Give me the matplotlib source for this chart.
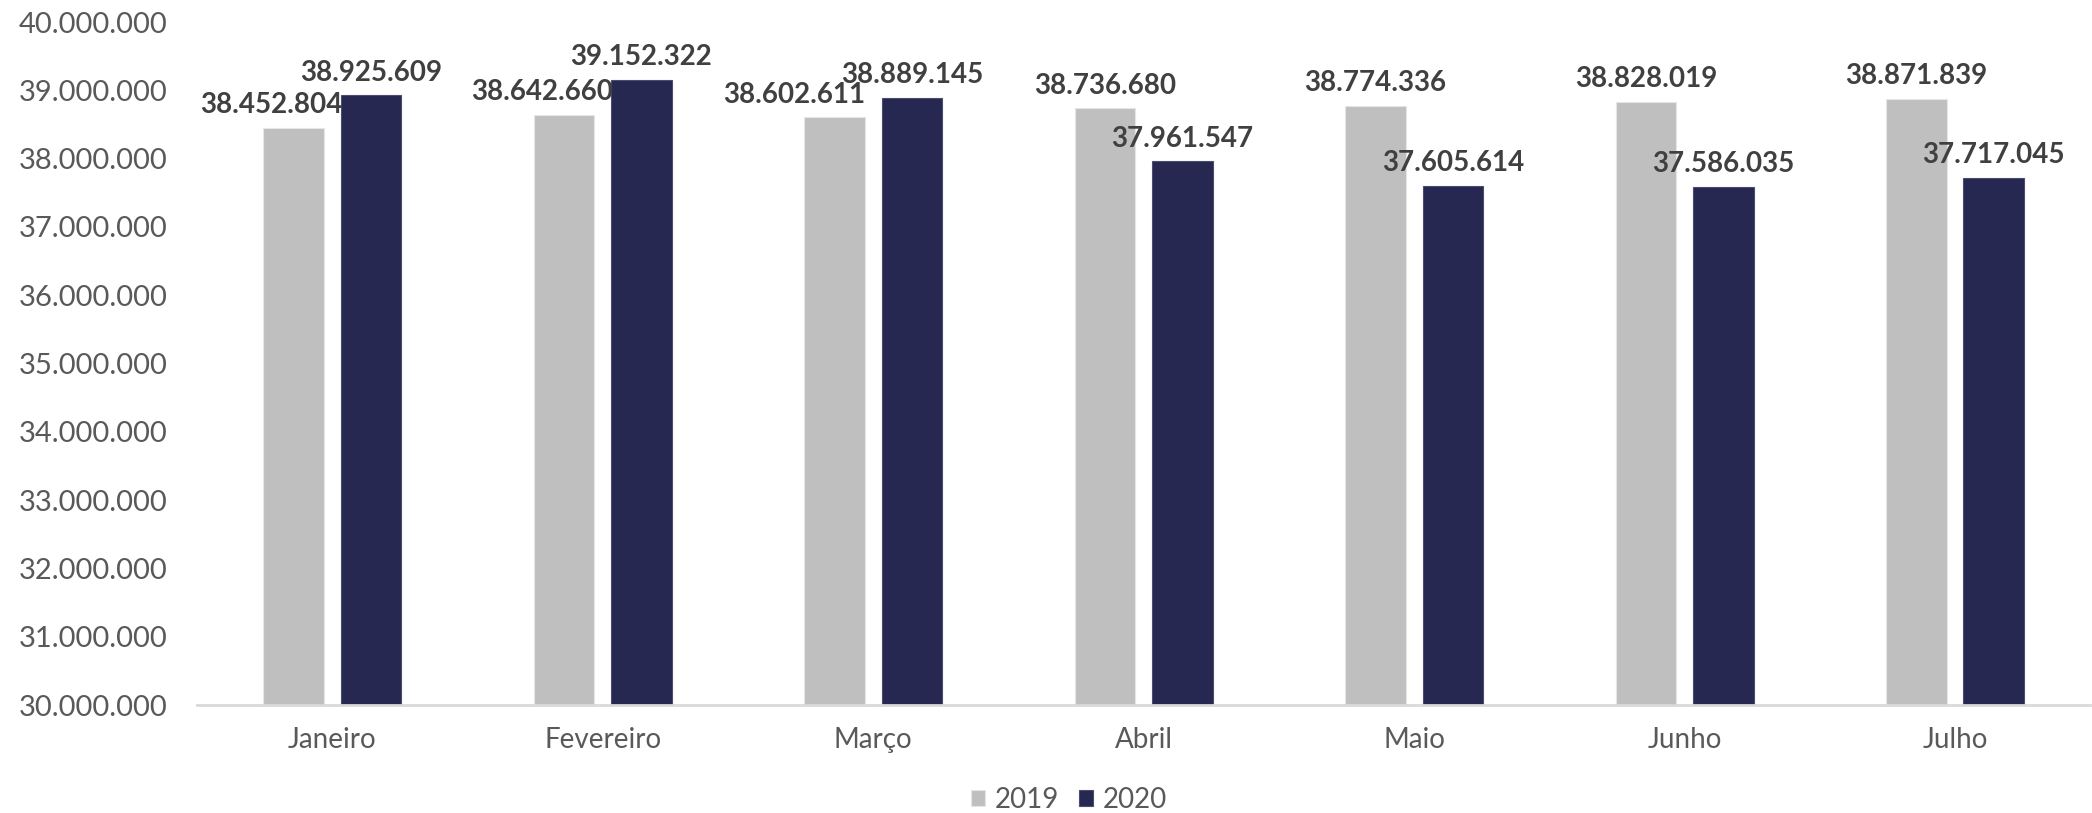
import numpy as np
import matplotlib
matplotlib.use('Agg')
import matplotlib.pyplot as plt
from matplotlib.ticker import FuncFormatter

meses = ['Janeiro', 'Fevereiro', 'Março', 'Abril', 'Maio', 'Junho', 'Julho']
anos = ['2019', '2020']
v2019 = [38452804, 38642660, 38602611, 38736680, 38774336, 38828019, 38871839]
v2020 = [38925609, 39152322, 38889145, 37961547, 37605614, 37586035, 37717045]
cores = ['#BFBFBF', '#262852']

# horizontal nudges of the 2019 value labels (points), as in the original
desloc2019 = [-16, -16, -29, 0, 0, 0, 0]
desloc2020 = [0, 0, 0, 0, 0, 0, 0]

def fmt(v):
    return f'{int(v):,}'.replace(',', '.')

plt.rcParams['font.family'] = ['Lato', 'DejaVu Sans']

fig = plt.figure(figsize=(20.92, 8.13), dpi=100)
ax = fig.add_axes([0.0942, 0.1328, 0.905, 0.8401])

x = np.arange(len(meses))
w = 0.224
off = 0.143
b1 = ax.bar(x - off, v2019, w, color=cores[0], edgecolor='#E6E6E6', linewidth=0.8, label=anos[0], zorder=2)
b2 = ax.bar(x + off, v2020, w, color=cores[1], edgecolor='#4A4C70', linewidth=0.8, label=anos[1], zorder=2)

for serie, barras, desl in [(v2019, b1, desloc2019), (v2020, b2, desloc2020)]:
    for v, r, d in zip(serie, barras, desl):
        ax.annotate(fmt(v), (r.get_x() + r.get_width() / 2, v), xytext=(d, 7),
                    textcoords='offset points', ha='center', va='bottom',
                    fontsize=20, fontweight='bold', color='#404040')

ax.set_ylim(30000000, 40000000)
ax.set_xlim(-0.5, 6.5)
ax.set_yticks(np.arange(30000000, 40000001, 1000000))
ax.yaxis.set_major_formatter(FuncFormatter(lambda v, p: fmt(v)))
ax.set_xticks(x)
ax.set_xticklabels(meses)
ax.tick_params(axis='y', length=0, labelsize=21, labelcolor='#595959', pad=21)
ax.tick_params(axis='x', length=0, labelsize=20, labelcolor='#595959', pad=16)

for s in ['top', 'right', 'left']:
    ax.spines[s].set_visible(False)
ax.spines['bottom'].set_color('#D9D9D9')
ax.spines['bottom'].set_linewidth(2)

fig.legend(handles=[b1, b2], labels=anos, loc='center', bbox_to_anchor=(0.511, 0.016),
           ncol=2, frameon=False, fontsize=20, handlelength=0.5, handleheight=0.5,
           handletextpad=0.35, columnspacing=0.75, labelcolor='#595959')

fig.savefig('out.png', dpi=100)
